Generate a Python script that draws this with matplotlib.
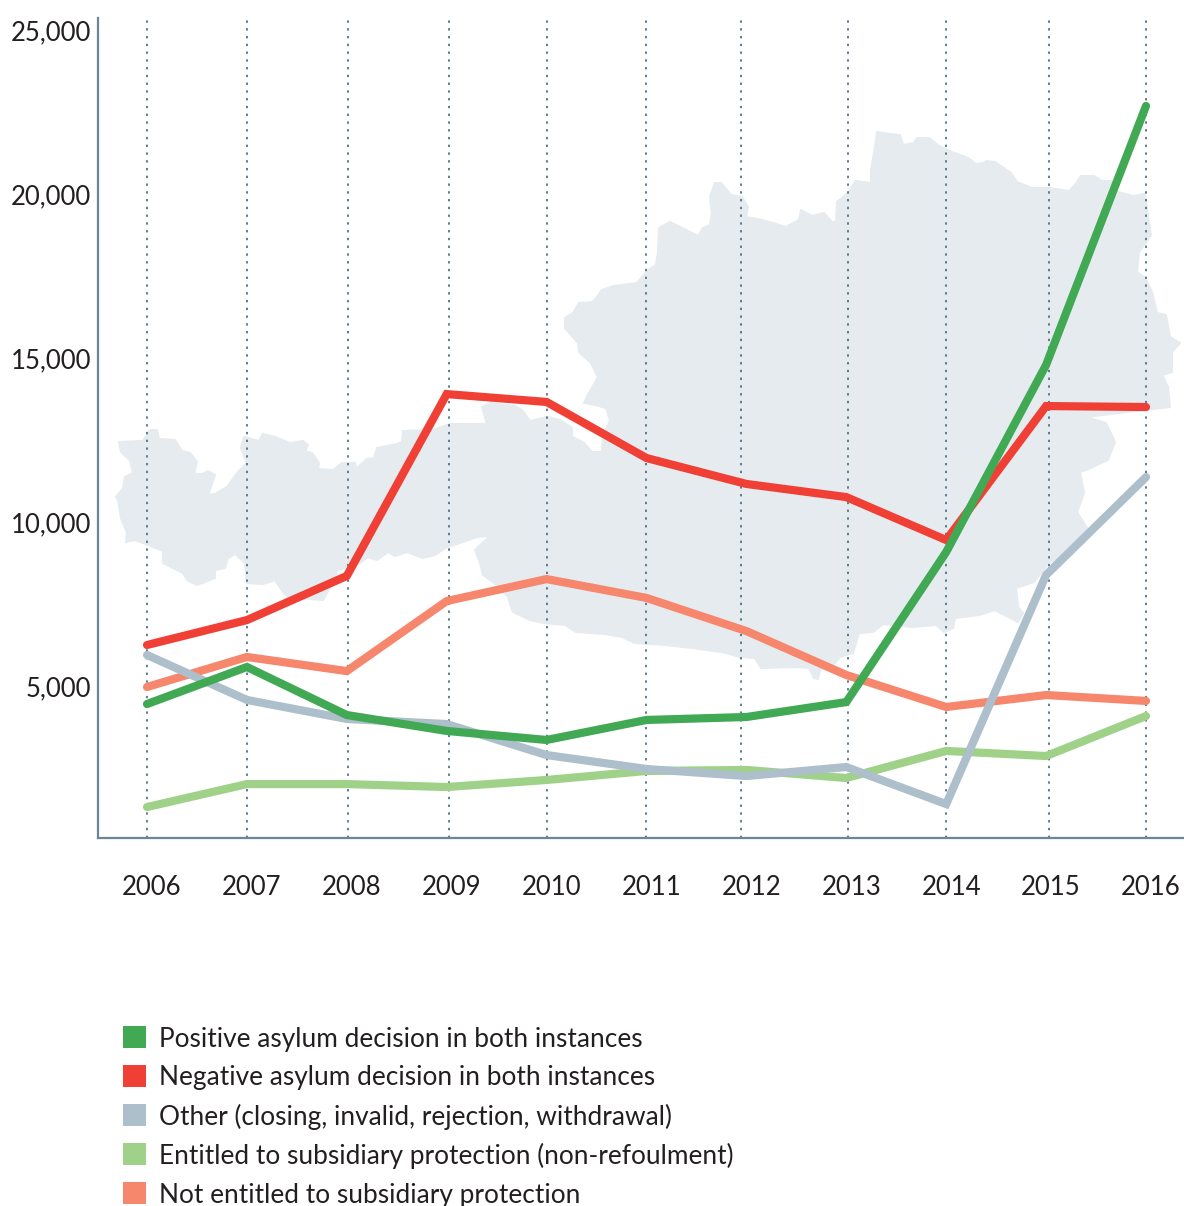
# -*- coding: utf-8 -*-
import numpy as np
import matplotlib
matplotlib.use('Agg')
import matplotlib.pyplot as plt
from matplotlib.patches import Polygon, Rectangle

plt.rcParams['font.family'] = ['Lato', 'DejaVu Sans']

years = [2006, 2007, 2008, 2009, 2010, 2011, 2012, 2013, 2014, 2015, 2016]
# the dotted guides are not quite evenly spaced in the original
guide_years = [2006, 2007, 2008.01, 2009.02, 2010, 2010.99, 2011.95, 2013.02, 2014, 2015.03, 2016]

positive = [4450, 5580, 4115, 3630, 3355, 3965, 4055, 4510, 9085, 14790, 22685]
negative = [6250, 7010, 8355, 13900, 13660, 11950, 11160, 10760, 9450, 13535, 13505]
other = [5945, 4575, 3995, 3840, 2895, 2470, 2255, 2530, 1400, 8385, 11370]
entitled = [1310, 2010, 2010, 1920, 2135, 2410, 2440, 2195, 3020, 2865, 4085]
not_entitled = [4970, 5885, 5455, 7590, 8260, 7685, 6675, 5335, 4360, 4725, 4545]

y_ticks = [5000, 10000, 15000, 20000, 25000]

legend_labels = ['Positive asylum decision in both instances',
                 'Negative asylum decision in both instances',
                 'Other (closing, invalid, rejection, withdrawal)',
                 'Entitled to subsidiary protection (non-refoulment)',
                 'Not entitled to subsidiary protection']
legend_colors = ['#41A953', '#F04035', '#AEBFCC', '#A0D189', '#F6866C']

# outline of Austria behind the lines, in image pixels
map_outline = [
    (119, 442), (143, 441), (150, 430), (157, 430), (159, 439), (175, 440), (182, 451), (190, 453),
    (197, 462), (194, 474), (203, 474), (208, 471), (215, 475), (208, 495), (215, 494), (227, 487),
    (238, 472), (247, 463), (241, 448), (244, 437), (259, 441), (263, 434), (275, 437), (290, 443),
    (303, 441), (308, 445), (305, 451), (312, 453), (319, 463), (318, 469), (333, 470), (342, 463),
    (355, 463), (356, 469), (367, 459), (374, 458), (377, 448), (397, 444), (402, 442), (403, 431),
    (433, 430), (450, 424), (473, 424), (487, 424), (482, 407), (490, 403), (515, 406), (522, 410),
    (530, 421), (547, 417), (560, 420), (572, 428), (572, 437), (583, 442), (592, 452), (602, 452),
    (603, 437), (610, 420), (606, 408), (595, 405), (584, 403), (589, 393), (598, 377), (591, 363),
    (579, 352), (578, 343), (565, 328), (565, 318), (573, 313), (579, 303), (593, 302), (602, 290),
    (614, 286), (637, 283), (648, 270), (656, 265), (658, 252), (659, 228), (670, 222), (680, 227),
    (698, 236), (703, 228), (710, 225), (712, 213), (710, 197), (715, 183), (721, 183), (731, 195),
    (742, 197), (748, 207), (746, 217), (762, 220), (786, 227), (799, 220), (801, 210), (812, 216),
    (824, 213), (832, 222), (836, 222), (837, 202), (849, 192), (855, 181), (871, 183), (871, 170),
    (875, 147), (877, 132), (890, 134), (900, 135), (903, 145), (914, 143), (917, 138), (929, 138),
    (939, 146), (952, 152), (968, 158), (976, 164), (984, 163), (986, 161), (995, 162), (1011, 173),
    (1017, 182), (1032, 188), (1050, 188), (1069, 191), (1075, 185), (1081, 176), (1094, 176), (1102, 181),
    (1112, 181), (1118, 192), (1133, 196), (1145, 194), (1149, 223), (1151, 235), (1139, 252), (1137, 272),
    (1145, 278), (1152, 292), (1157, 313), (1166, 315), (1170, 337), (1180, 343), (1172, 352), (1172, 372),
    (1162, 375), (1168, 387), (1170, 407), (1127, 412), (1086, 417), (1106, 423), (1115, 442), (1108, 460),
    (1086, 470), (1080, 472), (1084, 493), (1077, 512), (1090, 533), (1084, 543), (1049, 563), (1034, 582),
    (1016, 588), (1018, 607), (1023, 613), (1018, 622), (995, 610), (979, 615), (955, 618), (953, 628),
    (944, 632), (936, 625), (912, 627), (883, 624), (873, 632), (859, 633), (853, 653), (840, 657),
    (835, 663), (820, 670), (818, 679), (814, 678), (809, 668), (796, 667), (761, 668), (755, 658),
    (740, 657), (722, 652), (692, 648), (666, 645), (635, 643), (622, 637), (605, 634), (576, 632),
    (565, 625), (544, 623), (530, 620), (513, 612), (508, 597), (497, 585), (483, 575), (480, 563),
    (475, 550), (490, 536), (477, 537), (463, 542), (447, 547), (435, 555), (423, 558), (407, 552),
    (395, 556), (388, 552), (377, 560), (368, 557), (357, 565), (337, 570), (336, 577), (327, 593),
    (323, 600), (288, 597), (283, 592), (275, 580), (263, 584), (247, 583), (245, 563), (235, 554),
    (228, 558), (225, 568), (215, 570), (215, 578), (197, 585), (187, 580), (183, 573), (163, 563),
    (163, 551), (143, 543), (135, 540), (126, 542), (127, 533), (121, 518), (118, 500), (116, 497),
    (123, 488), (125, 477), (133, 473), (130, 460), (121, 452),
]

W, H = 1184, 1206
AXIS_COLOR = '#6B8696'
GUIDE_COLOR = '#4F7488'
TEXT_COLOR = '#231F20'
fig = plt.figure(figsize=(W / 100, H / 100), dpi=100)

# pixel layer for the map and the legend
bg = fig.add_axes([0, 0, 1, 1], zorder=0)
bg.set_xlim(0, W)
bg.set_ylim(H, 0)
bg.axis('off')
bg.add_patch(Polygon(map_outline, closed=True, fc='#E6EBF0', ec='#E6EBF0', lw=1.5, joinstyle='round'))

row_y = 1039
for label, color in zip(legend_labels, legend_colors):
    bg.add_patch(Rectangle((123, row_y - 13), 23, 22, fc=color, ec='none'))
    bg.text(159, row_y, label, fontsize=18.95, color=TEXT_COLOR, va='center', ha='left')
    row_y += 39

# main axes, left/bottom spines only
left, right, top, bottom = 98, W, 18, 838
ax = fig.add_axes([left / W, 1 - bottom / H, (right - left) / W, (bottom - top) / H], zorder=1)
ax.patch.set_alpha(0)
ax.set_xlim(2006 - 49 / 99.9, 2006 + (right - 147) / 99.9)
ax.set_ylim(366, 25366)

for s in ['top', 'right']:
    ax.spines[s].set_visible(False)
for s in ['left', 'bottom']:
    ax.spines[s].set_color(AXIS_COLOR)
    ax.spines[s].set_linewidth(1.6)

ax.vlines(guide_years, 366, 25366, color=GUIDE_COLOR, lw=1.3, linestyles=[(0, (1.3, 3.0))], zorder=1)

series = [(not_entitled, '#F6866C'), (entitled, '#A0D189'), (other, '#AEBFCC'),
          (negative, '#F04035'), (positive, '#41A953')]
for values, color in series:
    ax.plot(years, values, color=color, lw=5.9, solid_capstyle='round', solid_joinstyle='miter', zorder=3)

ax.set_yticks(y_ticks)
ax.set_yticklabels(['{:,}'.format(v) for v in y_ticks])
ax.set_xticks(np.array(years) + 0.05)
ax.set_xticklabels(years)
ax.tick_params(axis='y', length=0, pad=5, labelsize=18.5, labelcolor=TEXT_COLOR)
ax.tick_params(axis='x', length=0, pad=26.5, labelsize=18.5, labelcolor=TEXT_COLOR)

fig.savefig('out.png', dpi=100)
